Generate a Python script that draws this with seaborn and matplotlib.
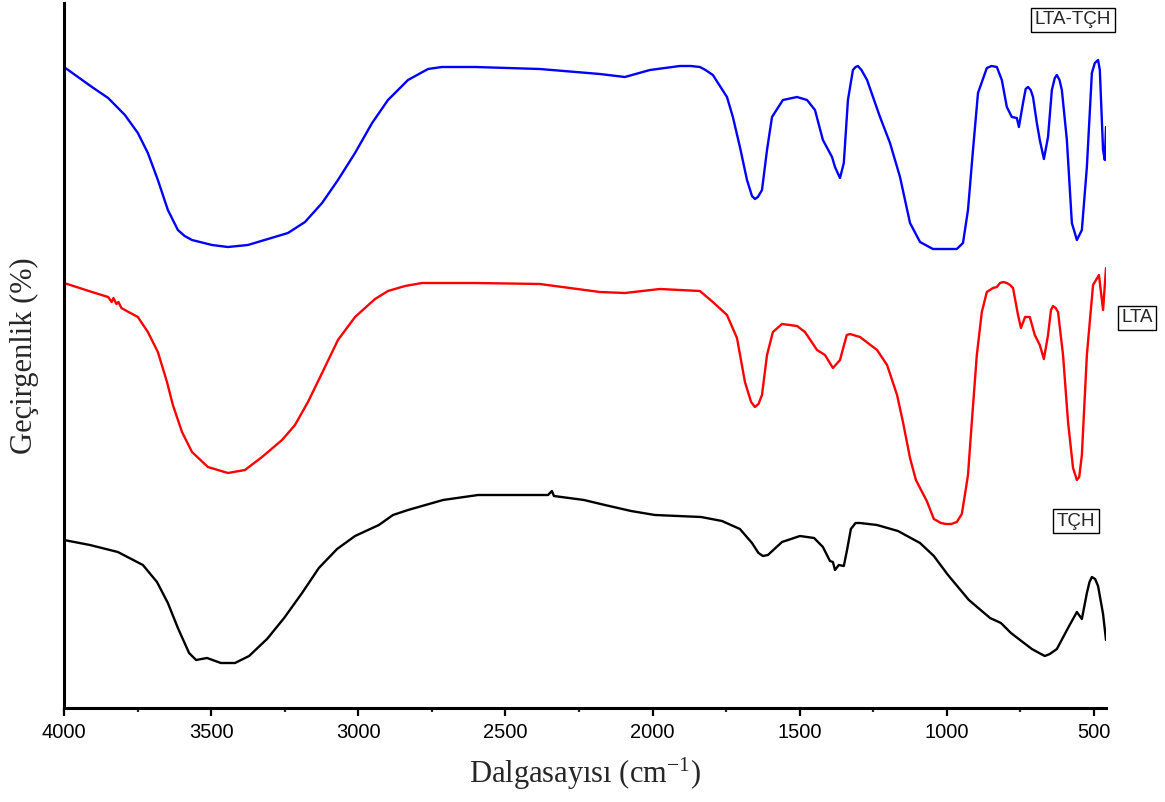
import numpy as np
import pandas as pd
import matplotlib
matplotlib.use("Agg")
import matplotlib.pyplot as plt
import seaborn as sns
from matplotlib.ticker import MultipleLocator

# ---------------- data (wavenumber cm-1, transmittance in arbitrary offset units) ----------------
lta_tch_wn = [4000, 3905, 3850, 3793, 3749, 3715, 3681, 3647, 3613, 3590, 3565,
              3497, 3443, 3375, 3307, 3239, 3181, 3123, 3069, 3011, 2953,
              2899, 2831, 2763, 2716, 2603, 2383, 2179, 2094, 2009, 1907,
              1870, 1839, 1820, 1795, 1747, 1727, 1703, 1679, 1662, 1652, 1642, 1628, 1611, 1594,
              1557, 1509, 1475, 1448, 1421, 1390, 1380, 1363, 1350, 1336,
              1319, 1310, 1302, 1290, 1271, 1227, 1193, 1159, 1125, 1091, 1047, 966,
              945, 928, 911, 894, 864, 848, 830, 813, 796, 779, 762,
              755, 741, 732, 724, 715, 707, 694, 684, 670, 656, 643, 633, 626,
              617, 609, 592, 575, 558, 541, 524, 507, 497, 486, 480,
              469, 463, 459]
lta_tch_t = [641, 621, 610, 593, 575, 555, 528, 498, 478, 472, 468,
             463, 461, 463, 469, 475, 486, 505, 528, 555, 585,
             608, 628, 639, 641, 641, 639, 634, 631, 638, 642,
             642, 641, 638, 633, 611, 591, 561, 528, 512, 509, 511, 518, 558, 591,
             608, 611, 608, 598, 568, 551, 541, 530, 545, 608,
             638, 641, 642, 638, 628, 591, 565, 531, 485, 466, 459, 459,
             465, 498, 558, 615, 640, 642, 641, 628, 601, 591, 590,
             581, 605, 619, 621, 618, 611, 585, 568, 549, 571, 618, 630, 633,
             628, 618, 568, 485, 468, 478, 541, 635, 645, 648, 638,
             558, 548, 581]

lta_wn = [4000, 3905, 3850, 3838, 3832, 3822, 3815, 3805, 3793, 3749,
          3715, 3681, 3650, 3630, 3599, 3565, 3511, 3443, 3385, 3327,
          3259, 3215, 3171, 3123, 3069, 3011, 2943, 2899, 2841, 2783,
          2603, 2383, 2179, 2094, 1975, 1839, 1795, 1747, 1713, 1686,
          1665, 1652, 1640, 1628, 1611, 1591, 1560, 1509, 1482, 1441, 1414, 1387,
          1363, 1340, 1329, 1295, 1237, 1203, 1169, 1149, 1125, 1105, 1068,
          1044, 1020, 1003, 985, 966, 949, 938, 928, 915, 898, 881, 864,
          843, 830, 819, 808, 796, 785, 775, 758, 748, 734, 718, 701, 684,
          670, 656, 646, 639, 630, 622, 605, 588, 571, 558, 550, 541, 524,
          503, 483, 469, 459]
lta_t = [425, 416, 411, 406, 410, 404, 406, 400, 398, 391,
         376, 356, 326, 303, 276, 256, 241, 235, 238, 251,
         268, 283, 306, 335, 368, 391, 409, 417, 422, 425,
         425, 424, 416, 415, 419, 417, 406, 393, 370, 326,
         306, 301, 304, 313, 353, 376, 384, 382, 376, 358, 353, 340,
         348, 373, 374, 371, 358, 343, 313, 286, 250, 228, 207,
         189, 185, 184, 184, 186, 194, 214, 233, 286, 353, 396, 416,
         420, 421, 425, 426, 425, 423, 420, 393, 380, 391, 391, 373, 363,
         349, 373, 398, 402, 400, 396, 353, 286, 240, 228, 231, 253, 353,
         423, 433, 398, 440]

tch_wn = [4000, 3912, 3817, 3732, 3684, 3647, 3613, 3575, 3551, 3514,
          3467, 3419, 3371, 3310, 3252, 3191, 3134, 3072, 3011, 2930,
          2882, 2831, 2712, 2593, 2474, 2355, 2342, 2335, 2233, 2162,
          2073, 1992, 1835, 1764, 1703, 1662, 1640, 1625, 1608, 1560, 1499,
          1451, 1421, 1397, 1387, 1380, 1367, 1350, 1339, 1326, 1310, 1295,
          1237, 1166, 1091, 1044, 996, 925, 853, 816, 782, 711,
          680, 667, 650, 626, 588, 558, 541, 524, 515, 507, 496, 486, 469, 459]
tch_t = [168, 163, 156, 143, 126, 105, 80, 55, 48, 50,
         45, 45, 52, 69, 90, 115, 140, 159, 172, 183,
         193, 198, 208, 213, 213, 213, 217, 212, 208, 203,
         197, 193, 191, 187, 179, 165, 155, 152, 153, 166, 172,
         170, 161, 147, 146, 138, 143, 142, 158, 179, 185, 185,
         183, 177, 165, 152, 133, 108, 90, 85, 75, 59,
         54, 52, 54, 59, 80, 96, 89, 115, 126, 131, 129, 122, 94, 68]

samples = ["LTA-TÇH", "LTA", "TÇH"]
colors = {"LTA-TÇH": "#0000FF", "LTA": "#FF0000", "TÇH": "#000000"}
x_label = "Dalgasayısı (cm$^{-1}$)"
y_label = "Geçirgenlik (%)"

# ---------------- plot ----------------
sns.set_style("ticks")
plt.rcParams['font.family'] = ['Liberation Sans', 'DejaVu Sans']
plt.rcParams['mathtext.fontset'] = 'custom'
plt.rcParams['mathtext.rm'] = 'Liberation Serif'
plt.rcParams['mathtext.it'] = 'Liberation Serif:italic'

df = pd.concat([
    pd.DataFrame({"wn": lta_tch_wn, "T": lta_tch_t, "sample": "LTA-TÇH"}),
    pd.DataFrame({"wn": lta_wn, "T": lta_t, "sample": "LTA"}),
    pd.DataFrame({"wn": tch_wn, "T": tch_t, "sample": "TÇH"}),
], ignore_index=True)

fig = plt.figure(figsize=(11.65, 8.02), dpi=100)
ax = fig.add_axes([64/1165, 94/802, 1042/1165, 705/802])

sns.lineplot(data=df, x="wn", y="T", hue="sample", hue_order=samples,
             palette=colors, sort=False, estimator=None, linewidth=1.7,
             legend=False, ax=ax)
for ln in ax.lines:
    ln.set_solid_joinstyle('round')

ax.set_xlim(4000, 459)
ax.set_ylim(0, 705)
ax.set_yticks([])
ax.xaxis.set_major_locator(MultipleLocator(500))
ax.xaxis.set_minor_locator(MultipleLocator(250))
ax.tick_params(axis='x', which='major', length=6, width=1.6, direction='out',
               labelsize=14.5, pad=5, colors='black')
ax.tick_params(axis='x', which='minor', length=3, width=1.6, direction='out')
for s in ['top', 'right']:
    ax.spines[s].set_visible(False)
for s in ['left', 'bottom']:
    ax.spines[s].set_linewidth(2.2)
    ax.spines[s].set_color('black')

ax.set_xlabel(x_label, fontfamily=['Liberation Serif'], fontsize=22, labelpad=10)
ax.set_ylabel(y_label, fontfamily=['Liberation Serif'], fontsize=22, labelpad=18)

box = dict(boxstyle='square,pad=0.18', fc='white', ec='black', lw=1)
ax.text(571, 688, "LTA-TÇH", ha='center', va='center', fontsize=13.5, bbox=box)
ax.text(354, 390, "LTA", ha='center', va='center', fontsize=13.5, bbox=box, clip_on=False)
ax.text(561, 187, "TÇH", ha='center', va='center', fontsize=13.5, bbox=box)

fig.savefig("out.png", dpi=100)
